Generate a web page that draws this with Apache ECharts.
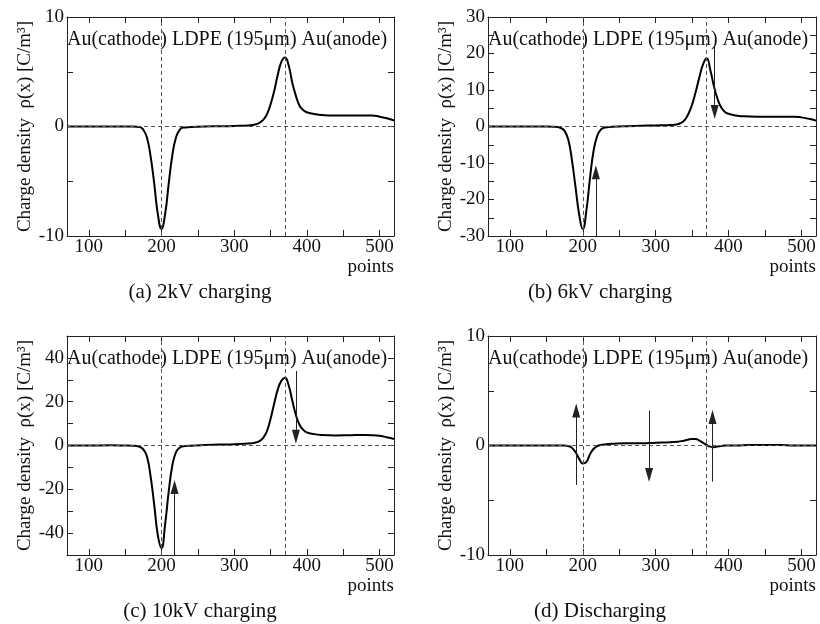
<!DOCTYPE html>
<html>
<head>
<meta charset="utf-8">
<script src="https://cdn.jsdelivr.net/npm/echarts@6/dist/echarts.min.js"></script>
<style>
  html, body { margin: 0; padding: 0; background: #fff; }
  #chart { width: 820px; height: 624px; }
</style>
</head>
<body>
<div id="chart"></div>
<script>
// measurement points shared by the four profiles
const xPoints = [70, 100, 130, 150, 160, 170, 175, 180, 185, 190, 195, 200, 205, 210, 215, 220, 225, 230, 240, 260, 280, 300, 320, 330, 335, 340, 345, 350, 355, 360, 365, 370, 375, 380, 385, 390, 395, 400, 410, 420, 440, 460, 480, 490, 500, 510, 520];

// charge density rho(x) [C/m3]
const rhoA = [0, 0, 0, 0, 0, -0.05, -0.3, -1.0, -2.7, -5.2, -8.0, -9.35, -8.0, -5.2, -2.6, -1.0, -0.3, -0.1, -0.05, 0, 0.02, 0.05, 0.1, 0.2, 0.35, 0.6, 1.1, 2.0, 3.2, 4.7, 5.9, 6.3, 5.6, 4.0, 2.8, 1.9, 1.5, 1.3, 1.15, 1.05, 1.0, 1.0, 1.0, 1.0, 0.9, 0.75, 0.55];
const rhoB = [0, 0, 0, 0, -0.05, -0.4, -1.2, -3.5, -9, -16.5, -24, -28.1, -23, -14, -6.5, -2.5, -0.8, -0.3, -0.1, 0.1, 0.2, 0.3, 0.4, 0.6, 1.0, 1.8, 3.5, 6.0, 9.5, 13.5, 17.0, 18.7, 15.5, 11, 7.5, 5.2, 4.0, 3.5, 3.0, 2.8, 2.7, 2.7, 2.7, 2.7, 2.5, 2.1, 1.6];
const rhoC = [0, 0, 0.1, 0, -0.1, -0.6, -1.8, -5, -14, -27, -41, -46.8, -36, -21, -9, -3, -1, -0.4, -0.1, 0.2, 0.4, 0.6, 0.9, 1.4, 2.0, 3.5, 6.5, 12, 19, 25.5, 29.5, 30.9, 27.5, 20.5, 14, 9.5, 7.2, 6.0, 5.2, 4.8, 4.6, 4.7, 4.8, 4.7, 4.4, 3.8, 3.0];
const rhoD = [0, 0, 0, 0, 0, 0, 0, -0.05, -0.2, -0.6, -1.2, -1.65, -1.5, -0.8, -0.3, -0.05, 0.05, 0.1, 0.15, 0.2, 0.2, 0.25, 0.3, 0.35, 0.4, 0.45, 0.55, 0.6, 0.6, 0.45, 0.25, 0.05, -0.1, -0.15, -0.1, -0.05, 0, 0, 0, 0.02, 0.05, 0.05, 0.02, 0, 0, 0, 0];

const captions = ["(a) 2kV charging", "(b) 6kV charging", "(c) 10kV charging", "(d) Discharging"];
const layerText = "Au(cathode) LDPE (195μm) Au(anode)";

const xTickVals = [100, 150, 200, 250, 300, 350, 400, 450, 500];
const xLabelVals = [100, 200, 300, 400, 500];
const yRanges = [[-10, 10], [-30, 30], [-50, 50], [-10, 10]];
const yTickVals = [
  [-10, -5, 0, 5, 10],
  [-30, -25, -20, -15, -10, -5, 0, 5, 10, 15, 20, 25, 30],
  [-50, -40, -30, -20, -10, 0, 10, 20, 30, 40, 50],
  [-10, -5, 0, 5, 10]
];
const yLabelVals = [[-10, 0, 10], [-30, -20, -10, 0, 10, 20, 30], [-40, -20, 0, 20, 40], [-10, 0, 10]];

// electrode interfaces (dashed)
const interfaces = [200, 370];
// arrows: [x, from, to]
const arrows = [
  [],
  [[218, -30, -12.5], [381, 22, 4]],
  [[218, -50, -19], [385, 34, 4]],
  [[191, -3.6, 3.2], [291, 3.2, -2.7], [378, -3.3, 2.6]]
];

const FONT = "Liberation Serif";
const grids = [
  { left: 67, top: 17, width: 327, height: 219 },
  { left: 488, top: 17, width: 328, height: 219 },
  { left: 67, top: 336, width: 327, height: 219 },
  { left: 488, top: 336, width: 328, height: 219 }
];
const rhoAll = [rhoA, rhoB, rhoC, rhoD];

const xAxes = [], yAxes = [], series = [], graphics = [];
grids.forEach((g, i) => {
  const tick = { inside: true, length: 6, lineStyle: { color: "#222" } };
  xAxes.push({
    gridIndex: i, type: "value", min: 70, max: 520,
    axisLine: { onZero: false, lineStyle: { color: "#222" } },
    axisTick: Object.assign({ customValues: xTickVals }, tick),
    axisLabel: { customValues: xLabelVals, fontFamily: FONT, fontSize: 19, color: "#111", margin: 2 },
    splitLine: { show: false },
    name: "points", nameLocation: "end", nameGap: 0,
    nameTextStyle: { fontFamily: FONT, fontSize: 19, color: "#111", align: "right", verticalAlign: "top", padding: [22, 0, 0, 0] }
  });
  xAxes.push({
    gridIndex: i, type: "value", position: "top", min: 70, max: 520,
    axisLine: { onZero: false, lineStyle: { color: "#222" } },
    axisTick: Object.assign({ customValues: xTickVals }, tick),
    axisLabel: { show: false }, splitLine: { show: false }
  });
  yAxes.push({
    gridIndex: i, type: "value", min: yRanges[i][0], max: yRanges[i][1],
    axisLine: { onZero: false, lineStyle: { color: "#222" } },
    axisTick: Object.assign({ customValues: yTickVals[i] }, tick),
    axisLabel: { customValues: yLabelVals[i], fontFamily: FONT, fontSize: 19, color: "#111", margin: 3 },
    splitLine: { show: false },
    name: "Charge density  ρ(x) [C/m³]", nameLocation: "middle", nameGap: 32,
    nameTextStyle: { fontFamily: FONT, fontSize: 19, color: "#111" }
  });
  yAxes.push({
    gridIndex: i, type: "value", position: "right", min: yRanges[i][0], max: yRanges[i][1],
    axisLine: { onZero: false, lineStyle: { color: "#222" } },
    axisTick: Object.assign({ customValues: yTickVals[i] }, tick),
    axisLabel: { show: false }, splitLine: { show: false }
  });

  const marks = interfaces.map(v => ({ xAxis: v })).concat([{ yAxis: 0 }]);
  arrows[i].forEach(a => {
    marks.push([
      { coord: [a[0], a[1]], symbol: "none", lineStyle: { type: "solid", color: "#222", width: 1 } },
      { coord: [a[0], a[2]], symbol: "triangle", symbolSize: [8, 14], lineStyle: { type: "solid", color: "#222", width: 1 } }
    ]);
  });

  series.push({
    type: "line", xAxisIndex: 2 * i, yAxisIndex: 2 * i,
    data: xPoints.map((x, k) => [x, rhoAll[i][k]]),
    smooth: true, showSymbol: false, symbol: "none",
    lineStyle: { color: "#000", width: 2 },
    markLine: {
      silent: true, symbol: "none", label: { show: false },
      lineStyle: { color: "#555", type: [4, 3], width: 1 },
      data: marks
    },
    z: 3
  });

  graphics.push({
    type: "text", x: g.left, y: g.top + 23,
    style: { text: layerText, font: "20px " + FONT, fill: "#111", align: "left", verticalAlign: "middle" }
  });
  graphics.push({
    type: "text", x: i % 2 === 0 ? 200 : 600, y: g.top + 275,
    style: { text: captions[i], font: "21px " + FONT, fill: "#111", align: "center", verticalAlign: "middle" }
  });
});

const chart = echarts.init(document.getElementById("chart"));
chart.setOption({
  animation: false,
  grid: grids,
  xAxis: xAxes,
  yAxis: yAxes,
  series: series,
  graphic: graphics
});
</script>
</body>
</html>
